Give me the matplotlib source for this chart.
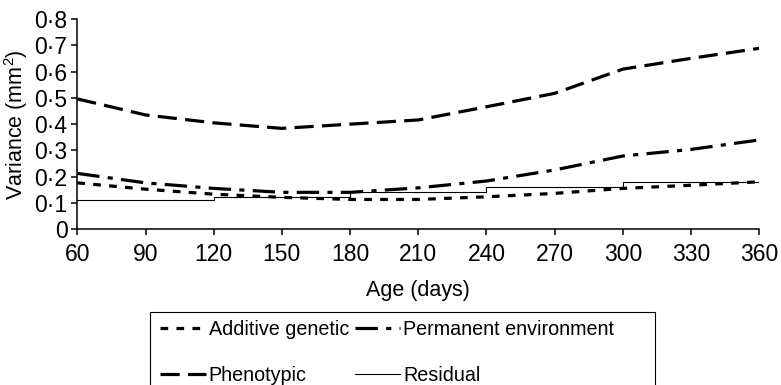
import matplotlib.pyplot as plt
from matplotlib.patches import Rectangle

plt.rcParams['font.family'] = ['Liberation Sans', 'DejaVu Sans']

# age in days
age = [60, 90, 120, 150, 180, 210, 240, 270, 300, 330, 360]
additive = [0.177, 0.153, 0.134, 0.122, 0.114, 0.114, 0.124, 0.137, 0.156, 0.168, 0.181]
perm_env = [0.213, 0.177, 0.156, 0.141, 0.141, 0.158, 0.184, 0.226, 0.279, 0.304, 0.340]
phenotypic = [0.496, 0.435, 0.405, 0.384, 0.400, 0.416, 0.466, 0.517, 0.609, 0.650, 0.688]
# residual is a step function over age classes
res_age = [60, 120, 180, 240, 300, 360]
residual = [0.112, 0.122, 0.141, 0.160, 0.181, 0.181]

yticks = [0, 0.1, 0.2, 0.3, 0.4, 0.5, 0.6, 0.7, 0.8]
ylabels = ['0', '0·1', '0·2', '0·3', '0·4', '0·5', '0·6', '0·7', '0·8']

fig = plt.figure(figsize=(7.81, 3.85), dpi=100)
ax = fig.add_axes([0.099, 0.404, 0.873, 0.547])

l1, = ax.plot(age, additive, color='black', lw=2.3, dashes=(2.4, 2.6), label='Additive genetic')
l2, = ax.plot(age, perm_env, color='black', lw=2.3, dashes=(7.0, 2.6, 1.6, 2.6), label='Permanent environment')
l3, = ax.plot(age, phenotypic, color='black', lw=2.3, dashes=(6.0, 2.6), label='Phenotypic')
l4, = ax.plot(res_age, residual, color='black', lw=0.8, drawstyle='steps-post', label='Residual')

ax.set_xlim(60, 360)
ax.set_ylim(0, 0.8)
ax.set_xticks(range(60, 361, 30))
ax.set_yticks(yticks)
ax.set_yticklabels(ylabels)
ax.tick_params(labelsize=16.5, direction='out', length=4, width=1.1)
ax.tick_params(axis='x', pad=6)
ax.tick_params(axis='y', pad=3)
ax.spines['top'].set_visible(False)
ax.spines['right'].set_visible(False)
ax.spines['left'].set_linewidth(1.1)
ax.spines['bottom'].set_linewidth(1.1)
ax.set_xlabel('Age (days)', fontsize=15.5, labelpad=10)
ax.set_ylabel('Variance (mm$^\\mathregular{2}$)', fontsize=15.5, labelpad=3)

leg = fig.legend(handles=[l1, l3, l2, l4], ncol=2, loc='upper left',
                 bbox_to_anchor=(0.195, 0.19), fontsize=14.2, frameon=False,
                 handlelength=2.3, handletextpad=0.15, columnspacing=0.3,
                 labelspacing=1.4, borderpad=0.4, borderaxespad=0)

# legend frame, open at the bottom edge of the figure
fig.patches.append(Rectangle((150 / 781, -0.05), 505 / 781, 0.05 + 73 / 385,
                             transform=fig.transFigure, fill=False,
                             edgecolor='black', lw=0.8))

plt.savefig('out.png', dpi=100)
